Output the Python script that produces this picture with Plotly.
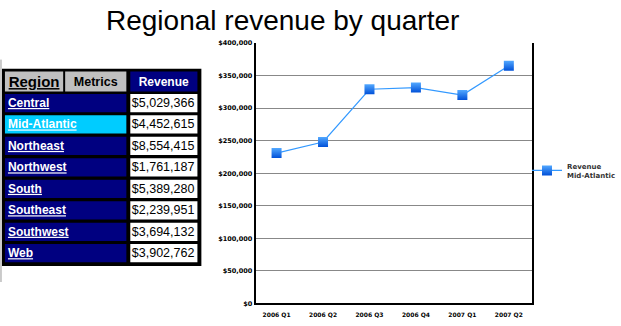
import plotly.graph_objects as go

W, H = 621, 326

# ---------------- data ----------------
quarters = ["2006 Q1", "2006 Q2", "2006 Q3", "2006 Q4", "2007 Q1", "2007 Q2"]
revenue_mid_atlantic = [231000, 248000, 329000, 331500, 320000, 365000]

regions = ["Central", "Mid-Atlantic", "Northeast", "Northwest",
           "South", "Southeast", "Southwest", "Web"]
region_revenue = [5029366, 4452615, 8554415, 1761187,
                  5389280, 2239951, 3694132, 3902762]
selected_region = "Mid-Atlantic"
header_labels = ["Region", "Metrics", "Revenue"]
y_tick_values = [0, 50000, 100000, 150000, 200000, 250000, 300000, 350000, 400000]
y_tick_labels = [f"${v:,}" for v in y_tick_values]


def px_x(p):
    return p / W


def px_y(p):
    return 1 - p / H


NAVY = "#000080"
CYAN = "#00ccff"
GRAY = "#c0c0c0"
HDR = "__hdr__"

fig = go.Figure()

# ---------------- table (bars on hidden axes, 1 unit = 1 px) ----------------
name_x0, name_x1 = 5, 128
val_x0, val_x1 = 132, 200
hdr_x0 = [5, 66, 132]
hdr_x1 = [64, 128, 200]

fig.add_trace(go.Bar(
    orientation="h", y=[HDR] * len(header_labels),
    base=hdr_x0, x=[b - a for a, b in zip(hdr_x0, hdr_x1)], width=0.93,
    marker=dict(color=[GRAY, GRAY, NAVY], line_width=0),
    text=[f"<b><u>{header_labels[0]}</u></b>", f"<b>{header_labels[1]}</b>",
          f"<b>{header_labels[2]}</b>"],
    textposition="inside", insidetextanchor="middle", constraintext="none",
    textfont=dict(family="Liberation Sans", size=[15, 12.5, 12], color=["black", "black", "white"]),
    xaxis="x2", yaxis="y2", showlegend=False, hoverinfo="skip", cliponaxis=False,
))

fig.add_trace(go.Bar(
    orientation="h", y=regions,
    base=[name_x0] * len(regions), x=[name_x1 - name_x0] * len(regions), width=0.85,
    marker=dict(color=[CYAN if r == selected_region else NAVY for r in regions], line_width=0),
    text=[f"<b><u>{r}</u></b>" for r in regions],
    textposition="inside", insidetextanchor="start", constraintext="none",
    textfont=dict(family="Liberation Sans", size=12, color="white"),
    xaxis="x2", yaxis="y2", showlegend=False, hoverinfo="skip", cliponaxis=False,
))

fig.add_trace(go.Bar(
    orientation="h", y=regions,
    base=[val_x0] * len(regions), x=[val_x1 - val_x0] * len(regions), width=0.85,
    marker=dict(color="white", line_width=0),
    text=[f"${v:,}" for v in region_revenue],
    textposition="inside", insidetextanchor="end", constraintext="none",
    textfont=dict(family="Liberation Sans", size=12.5, color="black"),
    xaxis="x2", yaxis="y2", showlegend=False, hoverinfo="skip", cliponaxis=False,
))

# ---------------- line chart ----------------
fig.add_trace(go.Scatter(
    x=quarters, y=revenue_mid_atlantic, mode="lines+markers",
    name="Revenue<br>Mid-Atlantic",
    line=dict(color="#3399ff", width=1.2),
    marker=dict(symbol="square", size=10, color="#52a8ff",
                gradient=dict(type="vertical", color="#0050d8"),
                line=dict(width=0)),
    hoverinfo="x+y",
))

fig.update_layout(
    width=W, height=H,
    margin=dict(l=0, r=0, t=0, b=0),
    paper_bgcolor="white", plot_bgcolor="white",
    barmode="overlay",
    xaxis=dict(
        domain=[px_x(259), px_x(539)], type="category", range=[-0.45, 5.5],
        showline=True, linecolor="black", linewidth=2, mirror=False,
        showgrid=False, ticks="", zeroline=False, ticklabelstandoff=4,
        tickfont=dict(family="DejaVu Sans", size=6, color="black", weight="bold"),
    ),
    yaxis=dict(
        domain=[px_y(307), px_y(40)], range=[0, 400000],
        tickmode="array", tickvals=y_tick_values, ticktext=y_tick_labels,
        showline=True, linecolor="black", linewidth=2, mirror=True,
        showgrid=True, gridcolor="#888888", gridwidth=1, zeroline=False, ticks="",
        tickfont=dict(family="DejaVu Sans", size=6.5, color="black", weight="bold"),
    ),
    xaxis2=dict(domain=[0, px_x(205)], range=[0, 205], visible=False, fixedrange=True,
                anchor="y2"),
    yaxis2=dict(domain=[px_y(266.5), px_y(68.5)], type="category",
                categoryorder="array", categoryarray=[HDR] + regions,
                range=[len(regions) + 0.5, -0.5], visible=False, fixedrange=True,
                anchor="x2"),
    showlegend=True,
    legend=dict(x=px_x(534), y=px_y(171), xanchor="left", yanchor="middle",
                bgcolor="rgba(0,0,0,0)", itemwidth=30,
                font=dict(family="DejaVu Sans", size=7, color="#333333", weight="bold")),
    shapes=[
        dict(type="rect", xref="paper", yref="paper",
             x0=px_x(2), x1=px_x(204), y0=px_y(268.5), y1=px_y(66.5),
             fillcolor="black", line=dict(width=0), layer="below"),
        dict(type="line", xref="paper", yref="paper",
             x0=px_x(1), x1=px_x(1), y0=px_y(285), y1=px_y(57),
             line=dict(color="#999999", width=1)),
    ],
    annotations=[
        dict(text="Regional revenue by quarter", xref="paper", yref="paper",
             x=px_x(286.5), y=1, xanchor="center", yanchor="top", borderpad=0,
             showarrow=False, font=dict(family="Liberation Sans", size=28, color="black")),
    ],
)

fig.write_html("out.html")
